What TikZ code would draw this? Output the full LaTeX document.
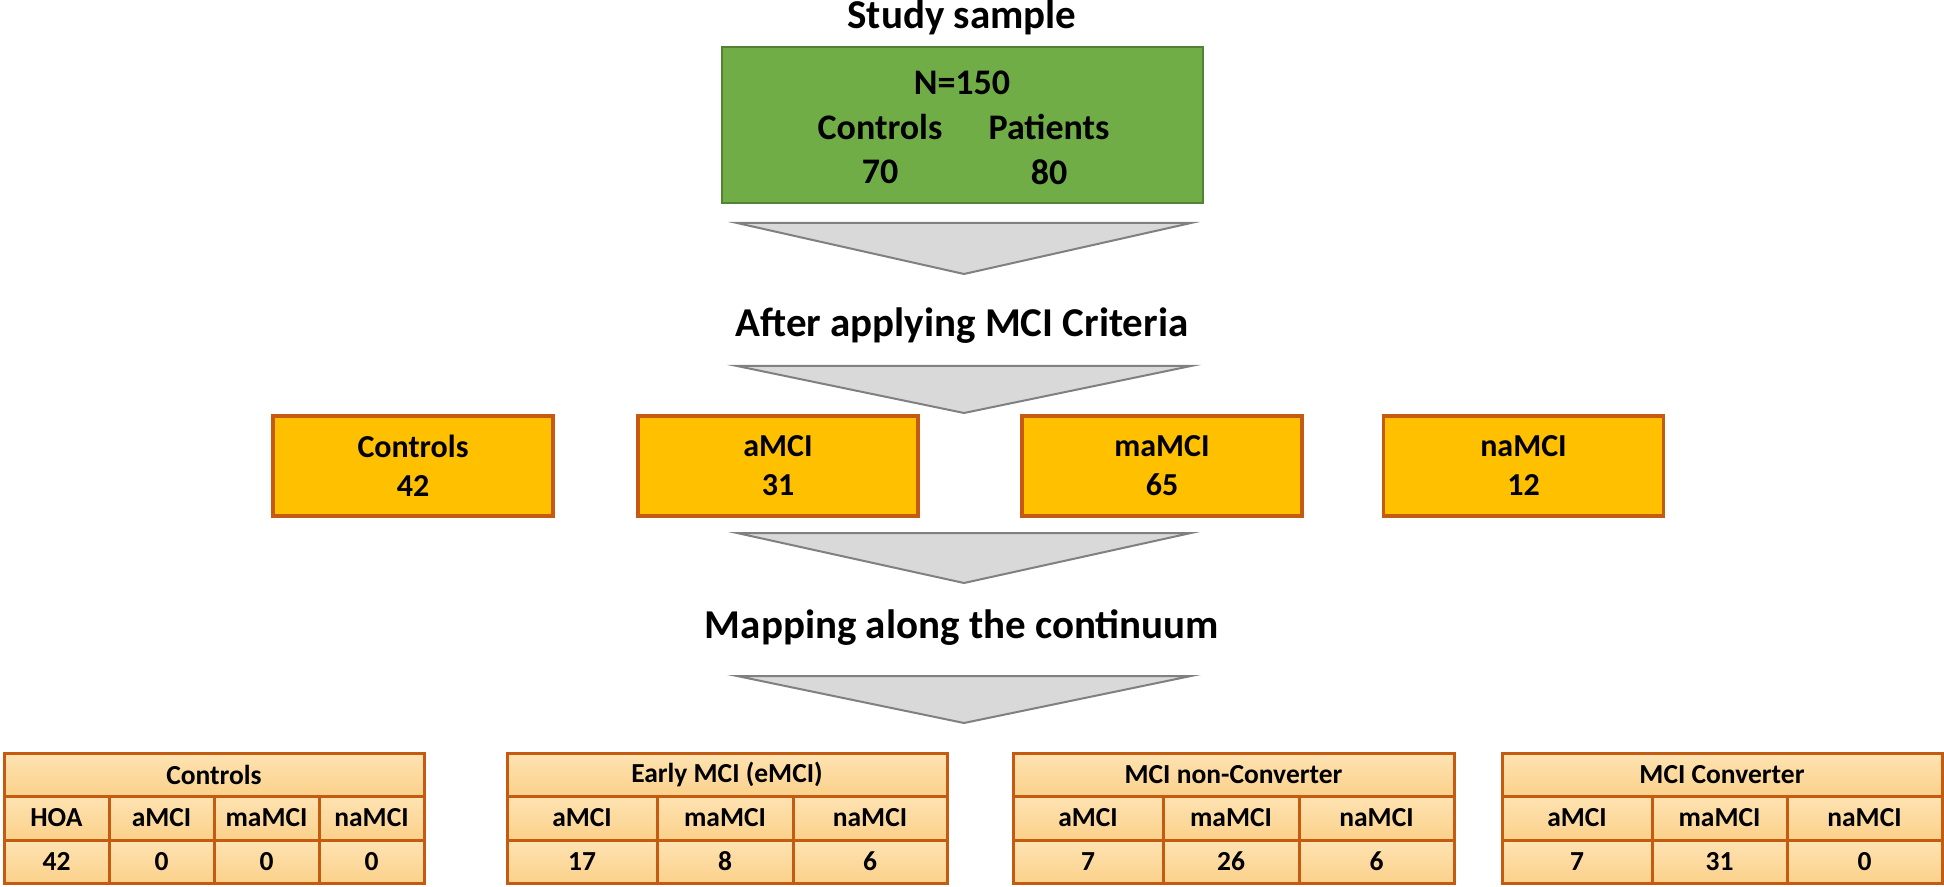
\documentclass[tikz,border=0pt]{standalone}
\usepackage{fontspec}
\setmainfont{Carlito}
\usetikzlibrary{positioning}

\definecolor{greenfill}{HTML}{70AD47}
\definecolor{greenline}{HTML}{548235}
\definecolor{boxfill}{HTML}{FFC000}
\definecolor{boxline}{HTML}{C55A11}
\definecolor{celltop}{HTML}{FEE3B2}
\definecolor{cellbot}{HTML}{FBD18B}
\definecolor{funnelfill}{HTML}{D9D9D9}
\definecolor{funnelline}{HTML}{808080}

\begin{document}
\begin{tikzpicture}[
    x=0.5pt, y=-0.5pt,
    title/.style={font=\bfseries\fontsize{20.5}{24}\selectfont, anchor=base},
    greenbox/.style={draw=greenline, fill=greenfill, line width=1pt, minimum width=240.5pt, minimum height=78pt},
    greentext/.style={font=\bfseries\fontsize{18}{21}\selectfont},
    groupbox/.style={draw=boxline, fill=boxfill, line width=1.75pt, minimum width=140pt, minimum height=50pt,
        inner sep=0pt, align=center, font=\bfseries\fontsize{16}{19.5}\selectfont},
    cell/.style={draw=boxline, top color=celltop, bottom color=cellbot, line width=1.5pt, inner sep=0pt,
        font=\bfseries\fontsize{13.75}{16}\selectfont},
    funnel/.style={draw=funnelline, fill=funnelfill, line width=1pt, line join=miter},
]
\useasboundingbox (0,0) rectangle (1944,887);

% =========================================================
% 1. Study sample
% =========================================================
\node[title] (tSample) at (962,29) {Study sample};
\node[greenbox] (sample) at (962.5,125.5) {};
\node[greentext] (nAll) at (962,83) {N=150};
\node[greentext] (nCtlLab) at (880,127) {Controls};
\node[greentext] (nPatLab) at (1049,127) {Patients};
\node[greentext] (nCtl) at (880,172) {70};
\node[greentext] (nPat) at (1049,172) {80};

\draw[funnel] (737,223) -- (1191,223) -- (964,274) -- cycle;

% =========================================================
% 2. After applying MCI criteria
% =========================================================
\node[title] (tCriteria) at (962,337) {After applying MCI Criteria};

\draw[funnel] (737,366) -- (1191,366) -- (964,413) -- cycle;

\node[groupbox] (gCtl) at (413,466) {Controls\\42};
\node[groupbox] (gAmci) at (778,466) {aMCI\\31};
\node[groupbox] (gMamci) at (1162,466) {maMCI\\65};
\node[groupbox] (gNamci) at (1523.5,466) {naMCI\\12};

\draw[funnel] (737,533) -- (1191,533) -- (964,583) -- cycle;

% =========================================================
% 3. Mapping along the continuum
% =========================================================
\node[title] (tMapping) at (962,638) {Mapping along the continuum};

\draw[funnel] (737,676) -- (1191,676) -- (964,723) -- cycle;

% Controls table
\node[cell, minimum width=210pt, minimum height=21.5pt] (ctlHead) at (214,774.5) {Controls};
\foreach \lab/\val [count=\i] in {HOA/42, aMCI/0, maMCI/0, naMCI/0} {
    \node[cell, minimum width=52.5pt, minimum height=22pt] (ctlLab\i) at ({4+105*(\i-0.5)},818) {\lab};
    \node[cell, minimum width=52.5pt, minimum height=21.5pt] (ctlVal\i) at ({4+105*(\i-0.5)},861.5) {\val};
}

% Early MCI table
\node[cell, minimum width=220pt, minimum height=21.5pt] (earlyHead) at (727,774.5) {Early MCI (eMCI)};
\foreach \cx/\w/\lab/\val [count=\i] in {582/75/aMCI/17, 725/68/maMCI/8, 870/77/naMCI/6} {
    \node[cell, minimum width=\w pt, minimum height=22pt] (earlyLab\i) at (\cx,818) {\lab};
    \node[cell, minimum width=\w pt, minimum height=21.5pt] (earlyVal\i) at (\cx,861.5) {\val};
}

% MCI non-Converter table
\node[cell, minimum width=220.5pt, minimum height=21.5pt] (nonconvHead) at (1233.5,774.5) {MCI non-Converter};
\foreach \cx/\w/\lab/\val [count=\i] in {1088/75/aMCI/7, 1231/68/maMCI/26, 1376.5/77.5/naMCI/6} {
    \node[cell, minimum width=\w pt, minimum height=22pt] (nonconvLab\i) at (\cx,818) {\lab};
    \node[cell, minimum width=\w pt, minimum height=21.5pt] (nonconvVal\i) at (\cx,861.5) {\val};
}

% MCI Converter table
\node[cell, minimum width=220pt, minimum height=21.5pt] (convHead) at (1722,774.5) {MCI Converter};
\foreach \cx/\w/\lab/\val [count=\i] in {1577/75/aMCI/7, 1719.5/67.5/maMCI/31, 1864.5/77.5/naMCI/0} {
    \node[cell, minimum width=\w pt, minimum height=22pt] (convLab\i) at (\cx,818) {\lab};
    \node[cell, minimum width=\w pt, minimum height=21.5pt] (convVal\i) at (\cx,861.5) {\val};
}

\end{tikzpicture}
\end{document}
